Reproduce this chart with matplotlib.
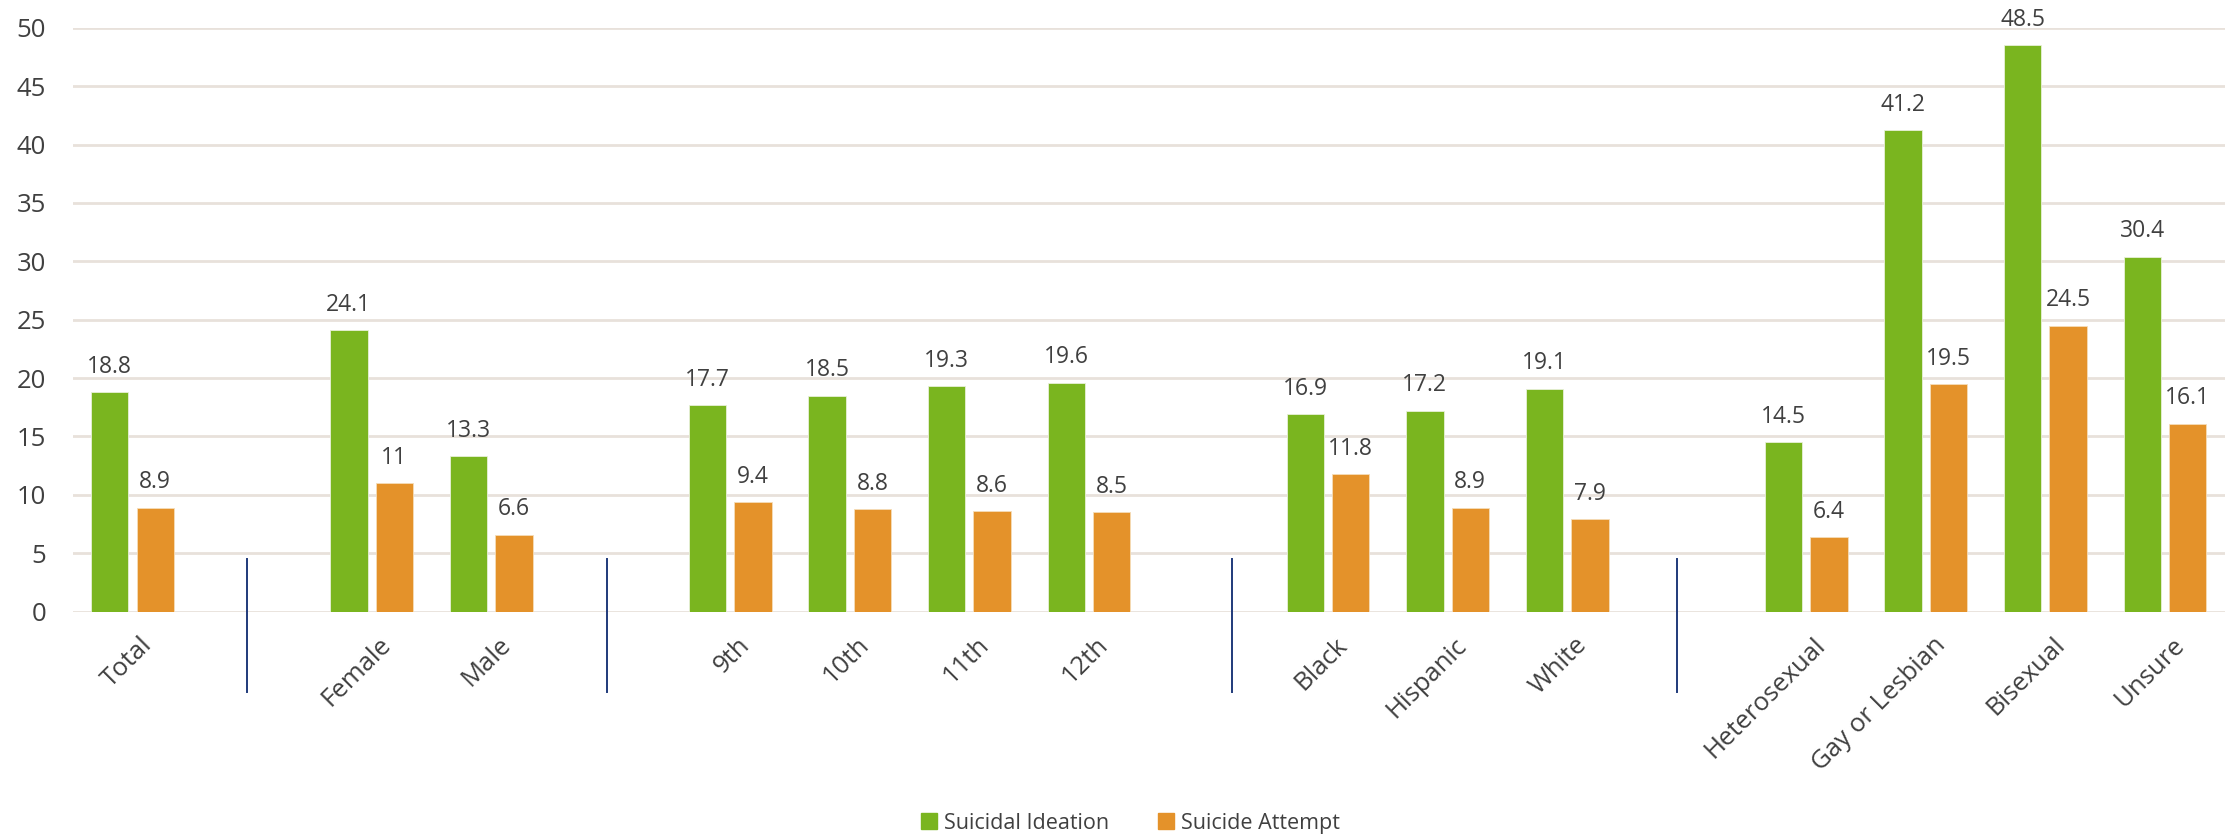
import numpy as np
import matplotlib.pyplot as plt
from matplotlib.transforms import ScaledTranslation

# Data (empty strings are the gaps between groups)
categories = ["Total", "", "Female", "Male", "", "9th", "10th", "11th", "12th", "",
              "Black", "Hispanic", "White", "", "Heterosexual", "Gay or Lesbian",
              "Bisexual", "Unsure"]
ideation = [18.8, None, 24.1, 13.3, None, 17.7, 18.5, 19.3, 19.6, None,
            16.9, 17.2, 19.1, None, 14.5, 41.2, 48.5, 30.4]
attempt = [8.9, None, 11, 6.6, None, 9.4, 8.8, 8.6, 8.5, None,
           11.8, 8.9, 7.9, None, 6.4, 19.5, 24.5, 16.1]
separators = [0.955, 3.97, 9.2, 12.917]

green = "#7AB51F"
orange = "#E4922A"
text_col = "#404040"

plt.rcParams['font.family'] = ['Open Sans', 'DejaVu Sans']

fig = plt.figure(figsize=(22.34, 8.4), dpi=100)
ax = fig.add_axes([0.03254, 0.2718, 0.9633, 0.6952])

x = np.arange(len(categories))
w = 0.312
off = 0.19

for i, (a, b) in enumerate(zip(ideation, attempt)):
    if a is None:
        continue
    ax.bar(i - off, a, w, color=green, edgecolor="#E8F0D8", linewidth=0.6, zorder=3)
    ax.bar(i + off, b, w, color=orange, edgecolor="#F5DDB8", linewidth=0.6, zorder=3)
    for xp, v in ((i - off, a), (i + off, b)):
        ax.annotate(f"{v:g}", (xp, v), xytext=(0, 13.9), textcoords="offset points",
                    ha="center", va="baseline", fontsize=16.5, color=text_col)

for s in separators:
    ax.plot([s, s], [4.5, -6.9], color="#1F3A7A", lw=1.4, clip_on=False, zorder=4)

ax.set_xlim(-0.5, len(categories) - 0.5)
ax.set_ylim(0, 50)
ax.set_yticks(np.arange(0, 51, 5))
ax.yaxis.grid(True, color="#E8E1DB", lw=2, zorder=0)
ax.set_axisbelow(True)
for sp in ax.spines.values():
    sp.set_visible(False)
ax.tick_params(axis="y", length=0, labelsize=18.5, labelcolor=text_col, pad=19)
ax.tick_params(axis="x", length=0, labelsize=18.5, labelcolor=text_col, pad=15)
ax.set_xticks(x)
ax.set_xticklabels(categories, rotation=45, ha="right", va="top", rotation_mode="anchor")
shift = ScaledTranslation(7 / 100, 0, fig.dpi_scale_trans)
for t in ax.get_xticklabels():
    t.set_transform(t.get_transform() + shift)

# legend
h1 = plt.Rectangle((0, 0), 1, 1, color=green)
h2 = plt.Rectangle((0, 0), 1, 1, color=orange)
fig.legend([h1, h2], ["Suicidal Ideation", "Suicide Attempt"], loc="center",
           bbox_to_anchor=(0.506, 0.02), ncol=2, frameon=False, fontsize=15.5,
           handlelength=0.75, handleheight=0.75, handletextpad=0.3, columnspacing=2.3,
           labelcolor=text_col)

fig.savefig("out.png", dpi=100)
